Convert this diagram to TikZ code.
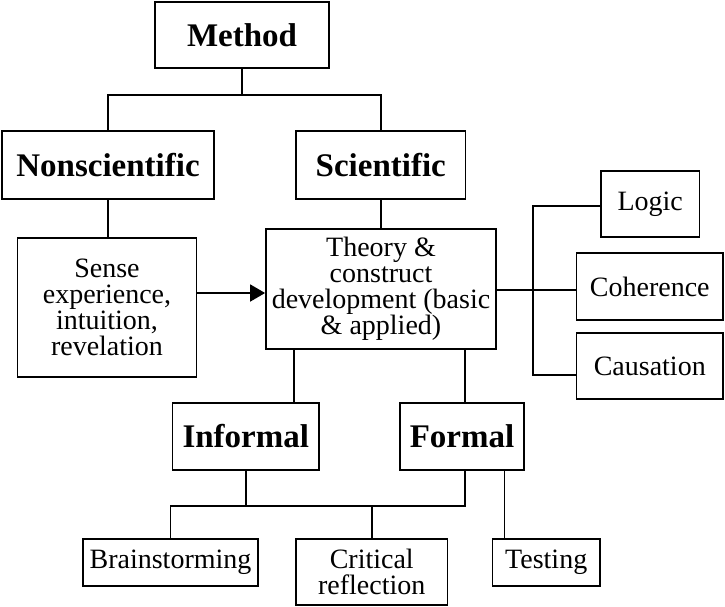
\documentclass[tikz,border=0pt]{standalone}
\usepackage{fontspec}
\setmainfont{Liberation Serif}
\usetikzlibrary{arrows.meta}
\begin{document}
\begin{tikzpicture}[x=1pt,y=-1pt,
  box/.style={draw, line width=1.8pt, inner sep=0pt, align=center, font=\fontsize{28}{26}\selectfont},
  head/.style={box, font=\fontsize{33}{36}\selectfont\bfseries},
  link/.style={line width=1.8pt}]
\useasboundingbox (0,0) rectangle (725,606);
% nodes
\node[head, minimum width=174pt, minimum height=66pt] (method) at (242,35) {Method};
\node[head, minimum width=212pt, minimum height=68pt] (nonsci) at (108,165) {Nonscientific};
\node[head, minimum width=169.5pt, minimum height=68pt] (sci) at (380.75,165) {Scientific};
\node[box, minimum width=98.5pt, minimum height=66pt] (logic) at (650.25,204) {Logic};
\node[box, minimum width=179pt, minimum height=139pt] (sense) at (107,307.5) {Sense\\experience,\\intuition,\\revelation};
\node[box, minimum width=230pt, minimum height=120pt] (theory) at (381,289) {Theory \&\\construct\\development (basic\\\& applied)};
\node[box, minimum width=146.5pt, minimum height=67pt] (coherence) at (649.75,286.5) {Coherence};
\node[box, minimum width=146.5pt, minimum height=66pt] (causation) at (649.75,366) {Causation};
\node[head, minimum width=146.5pt, minimum height=67pt] (informal) at (245.75,436.5) {Informal};
\node[head, minimum width=124pt, minimum height=67pt] (formal) at (462,436.5) {Formal};
\node[box, minimum width=175pt, minimum height=47.3pt] (brain) at (170.5,562.3) {Brainstorming};
\node[box, minimum width=151.5pt, minimum height=66.3pt] (critical) at (371.75,571.85) {Critical\\reflection};
\node[box, minimum width=107.6pt, minimum height=47.3pt] (testing) at (546.2,562.3) {Testing};
% helper coordinates
\coordinate (mbar) at (0,95);
\coordinate (arr) at (0,293);
\coordinate (rb) at (532.6,290);
\coordinate (lgy) at (532.6,205.7);
\coordinate (csy) at (532.6,375);
\coordinate (tl) at (293.6,0);
\coordinate (tr) at (464.6,0);
\coordinate (bar) at (0,505.7);
\coordinate (tt) at (504.4,0);
% connectors
\draw[link] (method.south) -- (method.south |- mbar);
\draw[link] (nonsci.north) -- (nonsci.north |- mbar) -- (sci.north |- mbar) -- (sci.north);
\draw[link] (nonsci.south) -- (nonsci.south |- sense.north);
\draw[link] (sci.south) -- (sci.south |- theory.north);
\draw[link, -{Triangle[length=15pt,width=17pt]}] (sense.east |- arr) -- (theory.west |- arr);
\draw[link] (theory.east |- rb) -- (coherence.west |- rb);
\draw[link] (logic.west |- lgy) -- (lgy) -- (csy) -- (causation.west |- csy);
\draw[link] (theory.south -| tl) -- (informal.north -| tl);
\draw[link] (theory.south -| tr) -- (formal.north -| tr);
\draw[link] (informal.south) -- (informal.south |- bar);
\draw[link] (formal.south -| tr) -- (tr |- bar) -- (brain.north |- bar) -- (brain.north);
\draw[link] (critical.north |- bar) -- (critical.north);
\draw[link] (formal.south -| tt) -- (testing.north -| tt);
\end{tikzpicture}
\end{document}
